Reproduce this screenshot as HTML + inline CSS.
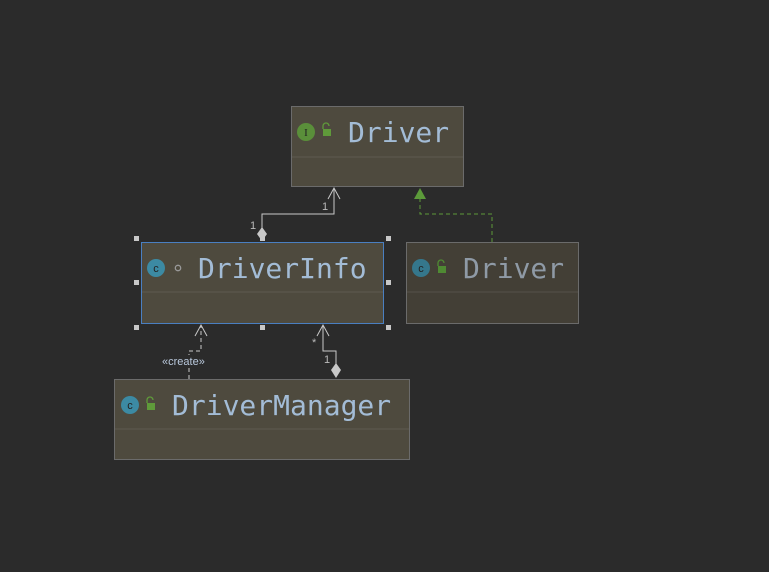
<!DOCTYPE html>
<html><head><meta charset="utf-8"><style>
html,body{margin:0;padding:0;background:#2b2b2b;}
svg{display:block}
.t{font-family:"DejaVu Sans Mono","Liberation Mono",monospace;font-size:28px;fill:#a3bcd6}
.s{font-family:"Liberation Sans",sans-serif;font-size:11px;fill:#bbbbbb}
</style></head><body>
<svg width="769" height="572" viewBox="0 0 769 572" xmlns="http://www.w3.org/2000/svg">
<rect width="769" height="572" fill="#2b2b2b"/>
<!-- Driver interface -->
<rect x="291.5" y="106.5" width="172" height="80" fill="#4e4a3e" stroke="#6b6b6b"/>
<line x1="292" y1="157" x2="463" y2="157" stroke="#5e5a50"/>
<circle cx="306" cy="132" r="9" fill="#5a8f3a"/>
<text x="306" y="136" font-family="Liberation Serif,serif" font-size="11" fill="#222" text-anchor="middle">I</text>
<rect x="323" y="129" width="8" height="7" fill="#5f9a3a"/>
<path d="M323 129 v-3 a3 3 0 0 1 6 0" fill="none" stroke="#5f9a3a" stroke-width="1.3"/>
<text class="t" x="348" y="142">Driver</text>
<!-- DriverInfo -->
<rect x="141.5" y="242.5" width="242" height="81" fill="#4e4a3e" stroke="#4a7fc1"/>
<line x1="142" y1="292" x2="383" y2="292" stroke="#5e5a50"/>
<circle cx="156" cy="268" r="9" fill="#3c8aa3"/>
<text x="156" y="272" font-family="Liberation Sans,sans-serif" font-size="11" fill="#222" text-anchor="middle">c</text>
<circle cx="178" cy="268" r="2.7" fill="none" stroke="#999" stroke-width="1.3"/>
<text class="t" x="198" y="278">DriverInfo</text>
<g fill="#c8c8c8">
<rect x="134" y="236" width="5" height="5"/><rect x="260" y="236" width="5" height="5"/><rect x="386" y="236" width="5" height="5"/>
<rect x="134" y="280" width="5" height="5"/><rect x="386" y="280" width="5" height="5"/>
<rect x="134" y="325" width="5" height="5"/><rect x="260" y="325" width="5" height="5"/><rect x="386" y="325" width="5" height="5"/>
</g>
<!-- Driver class -->
<rect x="406.5" y="242.5" width="172" height="81" fill="#433f36" stroke="#6b6b6b"/>
<line x1="407" y1="292" x2="578" y2="292" stroke="#55524a"/>
<circle cx="421" cy="268" r="9" fill="#35778c"/>
<text x="421" y="272" font-family="Liberation Sans,sans-serif" font-size="11" fill="#222" text-anchor="middle">c</text>
<rect x="438" y="266" width="8" height="7" fill="#4f8a33"/>
<path d="M438 266 v-3 a3 3 0 0 1 6 0" fill="none" stroke="#4f8a33" stroke-width="1.3"/>
<text class="t" x="463" y="278" style="fill:#8f9aa6">Driver</text>
<!-- DriverManager -->
<rect x="114.5" y="379.5" width="295" height="80" fill="#4e4a3e" stroke="#6b6b6b"/>
<line x1="115" y1="429" x2="409" y2="429" stroke="#5e5a50"/>
<circle cx="130" cy="405" r="9" fill="#3c8aa3"/>
<text x="130" y="409" font-family="Liberation Sans,sans-serif" font-size="11" fill="#222" text-anchor="middle">c</text>
<rect x="147" y="403" width="8" height="7" fill="#5f9a3a"/>
<path d="M147 403 v-3 a3 3 0 0 1 6 0" fill="none" stroke="#5f9a3a" stroke-width="1.3"/>
<text class="t" x="172" y="415">DriverManager</text>
<!-- DriverInfo -> Driver composition -->
<path d="M262 234 V214 H334 V188" fill="none" stroke="#c8c8c8"/>
<path d="M328 199 L334 188 L340 199" fill="none" stroke="#c8c8c8"/>
<path d="M262 227 L267 234 L262 241 L257 234 Z" fill="#c8c8c8"/>
<text class="s" x="250" y="229">1</text>
<text class="s" x="322" y="210">1</text>
<!-- Driver class implements -->
<path d="M492 242 V214 H420 V199" fill="none" stroke="#5c9a3a" stroke-dasharray="4,3"/>
<path d="M414 199 L420 188 L426 199 Z" fill="#5c9a3a"/>
<!-- create dependency -->
<path d="M189 379 V351 H201 V325" fill="none" stroke="#c8c8c8" stroke-dasharray="4,3"/>
<path d="M195 336 L201 325 L207 336" fill="none" stroke="#c8c8c8"/>
<rect x="160" y="355" width="54" height="12" fill="#2b2b2b"/>
<text class="s" x="162" y="365" style="fill:#b9c8dc">«create»</text>
<!-- DriverManager -> DriverInfo composition -->
<path d="M336 364 V351 H323 V325" fill="none" stroke="#c8c8c8"/>
<path d="M317 336 L323 325 L329 336" fill="none" stroke="#c8c8c8"/>
<path d="M336 363 L341 370 L336 378 L331 370 Z" fill="#c8c8c8"/>
<text class="s" x="312" y="346">*</text>
<text class="s" x="324" y="363">1</text>
</svg>
</body></html>
